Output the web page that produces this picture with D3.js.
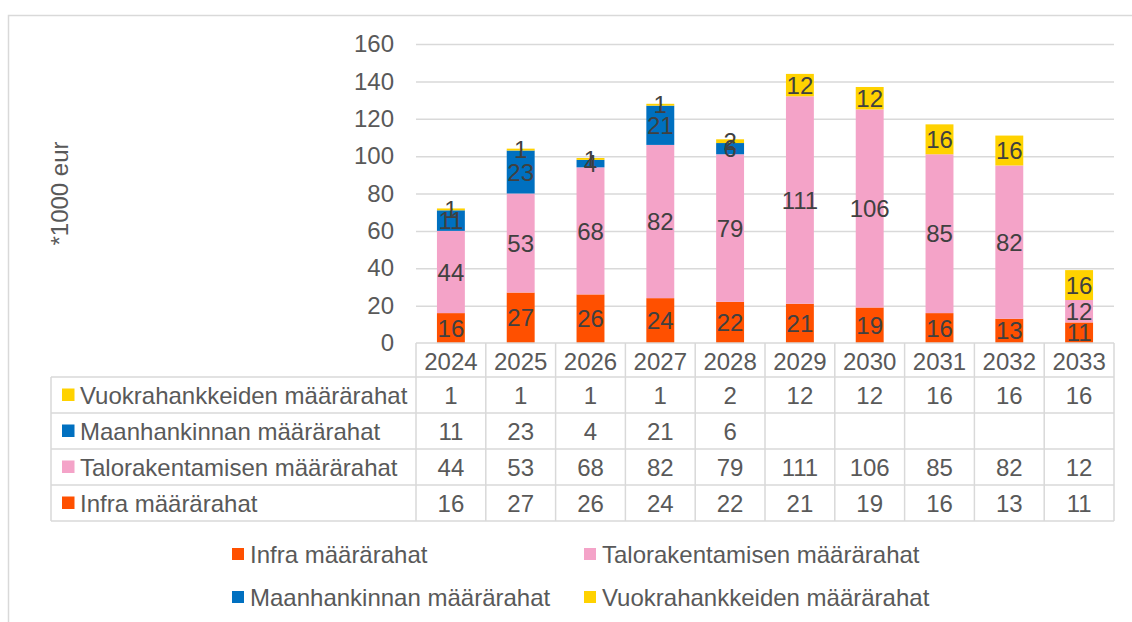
<!DOCTYPE html>
<html>
<head>
<meta charset="utf-8">
<script src="https://cdn.jsdelivr.net/npm/d3@7"></script>
<style>
  body { margin: 0; background: #fff; }
  svg { font-family: "Liberation Sans", Arial, sans-serif; }
</style>
</head>
<body>
<div id="chart"></div>
<script>
// data (*1000 eur)
const years = ["2024", "2025", "2026", "2027", "2028", "2029", "2030", "2031", "2032", "2033"];
const infra = [16, 27, 26, 24, 22, 21, 19, 16, 13, 11];
const talo = [44, 53, 68, 82, 79, 111, 106, 85, 82, 12];
const maan = [11, 23, 4, 21, 6, null, null, null, null, null];
const vuokra = [1, 1, 1, 1, 2, 12, 12, 16, 16, 16];
const yTicks = [0, 20, 40, 60, 80, 100, 120, 140, 160];

const series = [
  { name: "Infra määrärahat", values: infra, color: "#FF5000" },
  { name: "Talorakentamisen määrärahat", values: talo, color: "#F4A3C8" },
  { name: "Maanhankinnan määrärahat", values: maan, color: "#0070C0" },
  { name: "Vuokrahankkeiden määrärahat", values: vuokra, color: "#FFD200" },
];

const W = 1132, H = 622;
const plotL = 416, plotR = 1114, plotT = 44, base = 343;
const fs = 24;
const grey = "#d9d9d9", txt = "#595959", lbl = "#404040";

const svg = d3.select("#chart").append("svg").attr("width", W).attr("height", H);

// outer frame
svg.append("rect").attr("x", 8.5).attr("y", 15.5).attr("width", 1130).attr("height", 620)
  .attr("fill", "none").attr("stroke", grey).attr("stroke-width", 1.5);

const y = d3.scaleLinear().domain([0, 160]).range([base, plotT]);
const col = d3.scaleBand().domain(years).range([plotL, plotR]);
const x = d3.scaleBand().domain(years).range([plotL, plotR]).paddingInner(0.6).paddingOuter(0.3);

// gridlines + tick labels
const yAxis = svg.append("g").attr("transform", `translate(${plotL},0)`)
  .call(d3.axisLeft(y).tickValues(yTicks).tickSize(-(plotR - plotL)).tickPadding(22));
yAxis.select(".domain").remove();
yAxis.selectAll(".tick line").attr("stroke", grey).attr("stroke-width", 1.5);
yAxis.selectAll(".tick text").attr("fill", txt).style("font-size", fs + "px").style("font-family", "inherit");
yAxis.selectAll(".tick").filter(d => d === 0).select("line").remove();

svg.append("text").attr("transform", `translate(68,${(plotT + base) / 2}) rotate(-90)`)
  .attr("text-anchor", "middle").attr("fill", txt).style("font-size", fs + "px").text("*1000 eur");

// stacked bars
const rows = years.map((yr, i) => {
  const r = { year: yr };
  series.forEach(s => { r[s.name] = s.values[i] || 0; });
  return r;
});
const stack = d3.stack().keys(series.map(s => s.name))(rows);

stack.forEach((layer, li) => {
  const g = svg.append("g");
  g.selectAll("rect").data(layer).join("rect")
    .attr("x", d => x(d.data.year))
    .attr("y", d => y(d[1]))
    .attr("width", x.bandwidth())
    .attr("height", d => y(d[0]) - y(d[1]))
    .attr("fill", series[li].color);
});
stack.forEach((layer, li) => {
  svg.append("g").selectAll("text").data(layer.filter((d, i) => series[li].values[i] != null)).join("text")
    .attr("x", d => x(d.data.year) + x.bandwidth() / 2)
    .attr("y", d => y((d[0] + d[1]) / 2))
    .attr("dy", "0.36em")
    .attr("text-anchor", "middle")
    .attr("fill", lbl).style("font-size", fs + "px")
    .text(d => d[1] - d[0]);
});

// data table
const tLeft = 51, hdrTop = base, rowH = 36, tTop = 377;
const tableRows = [series[3], series[2], series[1], series[0]];
const tg = svg.append("g").attr("stroke", grey).attr("stroke-width", 1.5).attr("fill", "none");
const tBottom = tTop + rowH * tableRows.length;

// header row line
tg.append("line").attr("x1", plotL).attr("x2", plotR).attr("y1", hdrTop).attr("y2", hdrTop);
// horizontal lines
d3.range(tableRows.length + 1).forEach(i => {
  tg.append("line").attr("x1", tLeft).attr("x2", plotR)
    .attr("y1", tTop + i * rowH).attr("y2", tTop + i * rowH);
});
// vertical lines
tg.append("line").attr("x1", tLeft).attr("x2", tLeft).attr("y1", tTop).attr("y2", tBottom);
years.forEach(yr => {
  tg.append("line").attr("x1", col(yr)).attr("x2", col(yr)).attr("y1", hdrTop).attr("y2", tBottom);
});
tg.append("line").attr("x1", plotR).attr("x2", plotR).attr("y1", hdrTop).attr("y2", tBottom);

svg.append("g").selectAll("text").data(years).join("text")
  .attr("x", d => col(d) + col.bandwidth() / 2)
  .attr("y", (hdrTop + tTop) / 2 + 1).attr("dy", "0.36em")
  .attr("text-anchor", "middle").attr("fill", txt).style("font-size", fs + "px")
  .text(d => d);

tableRows.forEach((s, ri) => {
  const cy = tTop + ri * rowH + rowH / 2;
  svg.append("rect").attr("x", 62).attr("y", cy - 6.5).attr("width", 12.5).attr("height", 12.5).attr("fill", s.color);
  svg.append("text").attr("x", 80).attr("y", cy).attr("dy", "0.36em")
    .attr("fill", txt).style("font-size", fs + "px").text(s.name);
  svg.append("g").selectAll("text").data(years).join("text")
    .attr("x", d => col(d) + col.bandwidth() / 2)
    .attr("y", cy).attr("dy", "0.36em")
    .attr("text-anchor", "middle").attr("fill", txt).style("font-size", fs + "px")
    .text((d, i) => s.values[i] == null ? "" : s.values[i]);
});

// legend
const legendOrder = [series[0], series[1], series[2], series[3]];
const legX = [232, 584], legY = [554, 597];
legendOrder.forEach((s, i) => {
  const lx = legX[i % 2], ly = legY[Math.floor(i / 2)];
  svg.append("rect").attr("x", lx).attr("y", ly - 6).attr("width", 12).attr("height", 12).attr("fill", s.color);
  svg.append("text").attr("x", lx + 18).attr("y", ly).attr("dy", "0.36em")
    .attr("fill", txt).style("font-size", fs + "px").text(s.name);
});
</script>
</body>
</html>
